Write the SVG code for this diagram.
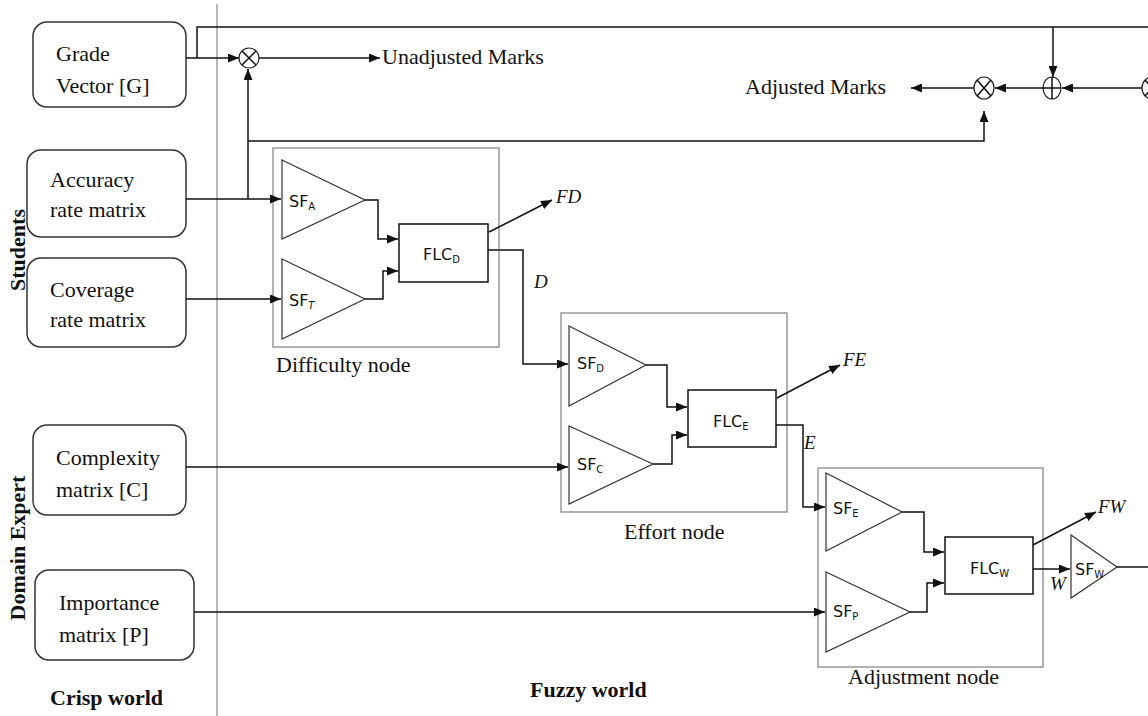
<svg xmlns="http://www.w3.org/2000/svg" width="1148" height="716" viewBox="0 0 1148 716">
<style>
.bg{fill:#fff}
.src{fill:#fff;stroke:#333;stroke-width:1.5}
.grp{fill:none;stroke:#999;stroke-width:1.5}
.tri{fill:#fff;stroke:#333;stroke-width:1.2}
.flc{fill:#fff;stroke:#111;stroke-width:1.5}
.ln{fill:none;stroke:#111;stroke-width:1.5}
.op{fill:#fff;stroke:#222;stroke-width:1.2}
.div{stroke:#888;stroke-width:1.2}
.t{font-family:"Liberation Serif",serif;font-size:22px;fill:#111}
.b{font-family:"Liberation Serif",serif;font-size:22px;font-weight:bold;fill:#111}
.i{font-family:"Liberation Serif",serif;font-size:19px;font-style:italic;fill:#111}
.s{font-family:"DejaVu Sans",sans-serif;font-size:16px;fill:#111}
.sub{font-size:10px}
</style>
<defs>
<marker id="ah" markerUnits="userSpaceOnUse" markerWidth="11" markerHeight="9" refX="11" refY="4.5" orient="auto">
<path d="M0,0 L11,4.5 L0,9 z" fill="#111"/>
</marker>
</defs>
<rect class="bg" x="0" y="0" width="1148" height="716"/>
<line class="div" x1="217" y1="4" x2="217" y2="716"/>

<g id="grade-vector">
<rect class="src" x="33" y="22" width="153" height="85" rx="14"/>
<text class="t" x="56" y="61">Grade</text>
<text class="t" x="56" y="93">Vector [G]</text>
</g>
<g id="accuracy">
<rect class="src" x="27" y="150" width="159" height="87" rx="14"/>
<text class="t" x="50" y="187">Accuracy</text>
<text class="t" x="50" y="217">rate matrix</text>
</g>
<g id="coverage">
<rect class="src" x="27" y="258" width="159" height="89" rx="14"/>
<text class="t" x="50" y="297">Coverage</text>
<text class="t" x="50" y="327">rate matrix</text>
</g>
<g id="complexity">
<rect class="src" x="33" y="425" width="153" height="90" rx="14"/>
<text class="t" x="56" y="465">Complexity</text>
<text class="t" x="56" y="497">matrix [C]</text>
</g>
<g id="importance">
<rect class="src" x="35" y="570" width="159" height="90" rx="14"/>
<text class="t" x="59" y="610">Importance</text>
<text class="t" x="59" y="642">matrix [P]</text>
</g>

<g id="labels">
<text class="b" transform="translate(25,250) rotate(-90)" text-anchor="middle">Students</text>
<text class="b" transform="translate(25,548) rotate(-90)" text-anchor="middle">Domain Expert</text>
<text class="b" x="50" y="705">Crisp world</text>
<text class="b" x="530" y="697">Fuzzy world</text>
<text class="t" x="382" y="64">Unadjusted Marks</text>
<text class="t" x="745" y="94">Adjusted Marks</text>
</g>

<g id="mult-unadjusted">
<circle class="op" cx="249" cy="58" r="10"/>
<path class="ln" d="M242,51 L256,65 M256,51 L242,65" stroke-width="1"/>
</g>
<g id="mult-adjusted">
<ellipse class="op" cx="984" cy="88" rx="10" ry="11"/>
<path class="ln" d="M977,80 L991,96 M991,80 L977,96" stroke-width="1"/>
</g>
<g id="sum">
<ellipse class="op" cx="1052" cy="88" rx="9" ry="11"/>
<path class="ln" d="M1043,88 L1061,88 M1052,77 L1052,99" stroke-width="1"/>
</g>
<g id="mult-right">
<ellipse class="op" cx="1152" cy="88" rx="10" ry="11"/>
<path class="ln" d="M1145,80 L1159,96 M1159,80 L1145,96" stroke-width="1"/>
</g>

<g id="difficulty-node">
<rect class="grp" x="273" y="148" width="226" height="199"/>
<path class="tri" d="M282,160 L365,200 L282,239 z"/>
<text class="s" x="289" y="207">SF<tspan class="sub" dy="3">A</tspan></text>
<path class="tri" d="M282,259 L365,299 L282,339 z"/>
<text class="s" x="289" y="306">SF<tspan class="sub" dy="3" font-style="italic">T</tspan></text>
<rect class="flc" x="399" y="224" width="89" height="58"/>
<text class="s" x="423" y="260">FLC<tspan class="sub" dy="3">D</tspan></text>
<text class="t" x="276" y="372">Difficulty node</text>
</g>
<g id="effort-node">
<rect class="grp" x="561" y="313" width="226" height="199"/>
<path class="tri" d="M569,326 L646,365 L569,406 z"/>
<text class="s" x="577" y="369">SF<tspan class="sub" dy="3">D</tspan></text>
<path class="tri" d="M569,426 L653,464 L569,504 z"/>
<text class="s" x="577" y="470">SF<tspan class="sub" dy="3">C</tspan></text>
<rect class="flc" x="688" y="390" width="88" height="57"/>
<text class="s" x="713" y="427">FLC<tspan class="sub" dy="3">E</tspan></text>
<text class="t" x="624" y="539">Effort node</text>
</g>
<g id="adjustment-node">
<rect class="grp" x="818" y="468" width="225" height="199"/>
<path class="tri" d="M826,473 L902,512 L826,551 z"/>
<text class="s" x="833" y="514">SF<tspan class="sub" dy="3">E</tspan></text>
<path class="tri" d="M826,572 L910,612 L826,652 z"/>
<text class="s" x="833" y="617">SF<tspan class="sub" dy="3">P</tspan></text>
<rect class="flc" x="945" y="537" width="88" height="57"/>
<text class="s" x="970" y="574">FLC<tspan class="sub" dy="3">W</tspan></text>
<text class="t" x="848" y="684">Adjustment node</text>
</g>
<g id="sf-w">
<path class="tri" d="M1071,535 L1117,567 L1071,598 z"/>
<text class="s" x="1075" y="575">SF<tspan class="sub" dy="3">W</tspan></text>
</g>

<g id="connectors">
<path class="ln" d="M186,58 L239,58" marker-end="url(#ah)"/>
<path class="ln" d="M197,58 L197,27 L1148,27"/>
<path class="ln" d="M259,58 L380,58" marker-end="url(#ah)"/>
<path class="ln" d="M248,199 L248,69" marker-end="url(#ah)"/>
<path class="ln" d="M248,141 L984,141 L984,111" marker-end="url(#ah)"/>
<path class="ln" d="M1053,27 L1053,77" marker-end="url(#ah)"/>
<path class="ln" d="M1142,88 L1062,88" marker-end="url(#ah)"/>
<path class="ln" d="M1043,88 L995,88" marker-end="url(#ah)"/>
<path class="ln" d="M974,88 L911,88" marker-end="url(#ah)"/>
<path class="ln" d="M186,199 L281,199" marker-end="url(#ah)"/>
<path class="ln" d="M186,299 L281,299" marker-end="url(#ah)"/>
<path class="ln" d="M365,200 L378,200 L378,239 L398,239" marker-end="url(#ah)"/>
<path class="ln" d="M365,299 L383,299 L383,271 L398,271" marker-end="url(#ah)"/>
<path class="ln" d="M489,232 L552,200" marker-end="url(#ah)" stroke-width="1.2"/>
<path class="ln" d="M488,250 L523,250 L523,364 L568,364" marker-end="url(#ah)"/>
<path class="ln" d="M186,467 L568,467" marker-end="url(#ah)"/>
<path class="ln" d="M646,365 L667,365 L667,407 L687,407" marker-end="url(#ah)"/>
<path class="ln" d="M653,464 L672,464 L672,435 L687,435" marker-end="url(#ah)"/>
<path class="ln" d="M777,398 L840,365" marker-end="url(#ah)" stroke-width="1.2"/>
<path class="ln" d="M776,425 L803,425 L803,507 L825,507" marker-end="url(#ah)"/>
<path class="ln" d="M194,612 L825,612" marker-end="url(#ah)"/>
<path class="ln" d="M902,512 L924,512 L924,552 L944,552" marker-end="url(#ah)"/>
<path class="ln" d="M910,612 L927,612 L927,583 L944,583" marker-end="url(#ah)"/>
<path class="ln" d="M1033,545 L1096,512" marker-end="url(#ah)" stroke-width="1.2"/>
<path class="ln" d="M1033,569 L1070,569" marker-end="url(#ah)"/>
<path class="ln" d="M1117,567 L1148,567"/>
<text class="i" x="556" y="203">FD</text>
<text class="i" x="534" y="288">D</text>
<text class="i" x="843" y="366">FE</text>
<text class="i" x="804" y="449">E</text>
<text class="i" x="1098" y="513">FW</text>
<text class="i" x="1050" y="590">W</text>
</g>
</svg>
